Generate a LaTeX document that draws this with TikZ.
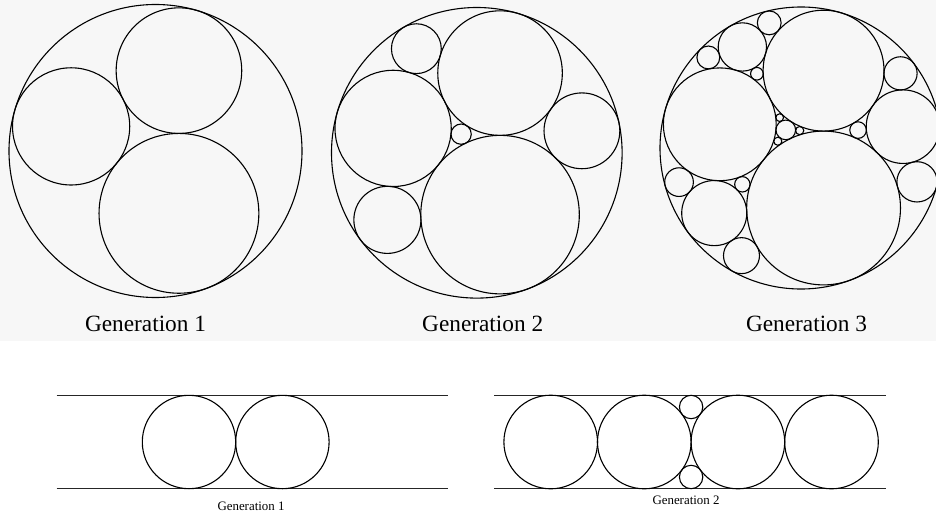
\documentclass[tikz,border=0pt]{standalone}
\usepackage{fontspec}
\setmainfont{Liberation Serif}
% Apollonian gasket (-6,11,14,15): entries K/u/v, centre = (u,v)/K, radius = 6/K (outer radius = 1)
\def\genone{11/1.76/-4.68, 14/2.24/7.68, 15/-8.64/2.52}
\def\gentwo{86/-9.28/11.04, 35/-14.56/25.08, 23/16.64/3.48, 26/-16/-12}
\def\genthree{207/-1.92/25.56, 210/-34.56/10.08, 219/-33.12/47.16,
  71/-16/63, 74/-48.64/47.52, 134/-41.92/70.56,
  42/34.56/-10.08, 51/36/27, 102/41.28/12.96,
  47/-19.84/-35.88, 59/-51.04/-14.28, 110/-45.76/-28.32}
\newcommand\drawgen[4]{%
  \foreach \k/\u/\v in #4 {%
    \draw[circ] ({#1+#3*(\u)/\k},{#2-#3*(\v)/\k}) circle[radius={#3*6/\k}];
  }%
}
\begin{document}
\begin{tikzpicture}[x=1pt,y=-1pt,
  circ/.style={draw=black,line width=1.1pt},
  strip/.style={draw=black!85,line width=1.3pt},
  toplabel/.style={font=\fontsize{23.3}{28}\selectfont,anchor=base,inner sep=0pt},
  botlabel/.style={font=\fontsize{12.9}{15}\selectfont,anchor=base,inner sep=0pt}]
\clip (0,0) rectangle (936,514);
\fill[white] (0,0) rectangle (936,514);
\fill[black!3] (0,0) rectangle (936,341);

% Generation 1 gasket
\draw[circ] (155.5,151) circle[radius=146.5];
\drawgen{155.5}{151}{146.5}{\genone}
% Generation 2 gasket
\draw[circ] (476.8,152.8) circle[radius=145.3];
\drawgen{476.8}{152.8}{145.3}{\genone}
\drawgen{476.8}{152.8}{145.3}{\gentwo}
% Generation 3 gasket
\draw[circ] (801,148) circle[radius=141];
\drawgen{801}{148}{141}{\genone}
\drawgen{801}{148}{141}{\gentwo}
\drawgen{801}{148}{141}{\genthree}

\node[toplabel] (l1) at (145.5,331) {Generation 1};
\node[toplabel] (l2) at (482.7,331.5) {Generation 2};
\node[toplabel] (l3) at (806.5,331.5) {Generation 3};

% strip, generation 1
\draw[strip] (56.7,395.3) -- (448.3,395.3);
\draw[strip] (56.7,488.7) -- (448.3,488.7);
\draw[circ] (189,442) circle[radius=46.7];
\draw[circ] (282.4,442) circle[radius=46.7];
\node[botlabel] (b1) at (251,510) {Generation 1};

% strip, generation 2
\draw[strip] (494,395.3) -- (886,395.3);
\draw[strip] (494,488.7) -- (886,488.7);
\foreach \cx in {550.7,644.3,737.9,831.5}
  \draw[circ] (\cx,442) circle[radius=46.8];
\draw[circ] (691.1,407) circle[radius=11.7];
\draw[circ] (691.1,477) circle[radius=11.7];
\node[botlabel] (b2) at (686,504) {Generation 2};
\end{tikzpicture}
\end{document}
